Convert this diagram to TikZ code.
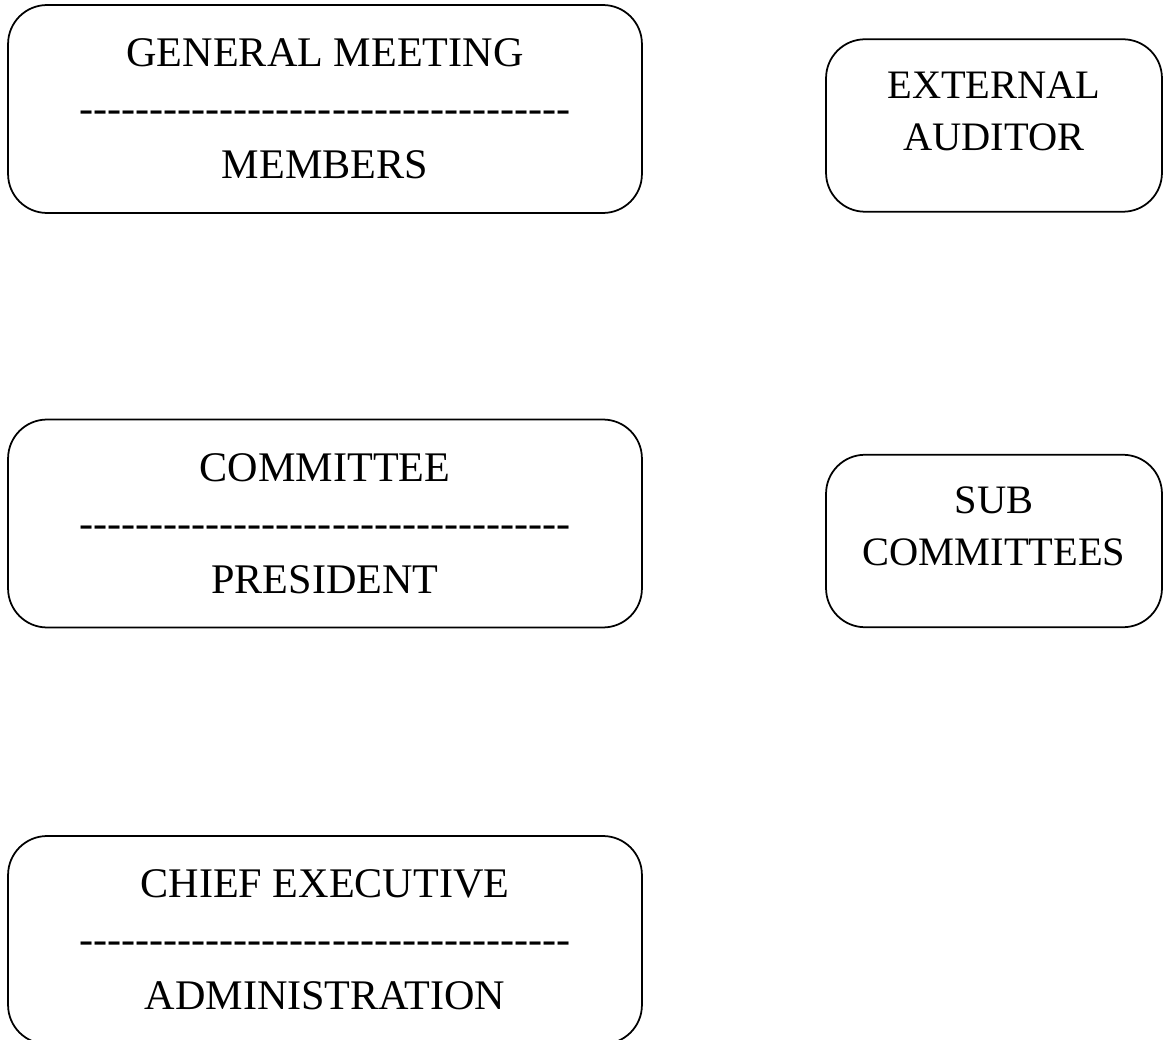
\documentclass[tikz,border=0pt]{standalone}
\usepackage{fontspec}
\setmainfont{Liberation Serif}[Ligatures=TeXOff]
\tikzset{
	orgbox/.style={draw, line width=1pt, rounded corners=0.78cm, align=center, inner sep=0pt},
	widebox/.style={orgbox, minimum width=12.68cm, minimum height=4.16cm, font=\fontsize{24}{31.9}\selectfont},
	smallbox/.style={orgbox, minimum width=6.72cm, minimum height=3.45cm, text depth=0.58cm, font=\fontsize{23}{29.5}\selectfont}
}
\begin{document}
\begin{tikzpicture}[x=0.02cm, y=-0.02cm, line join=round, line cap=round]
			\def\sep{-----------------------------------}
			\useasboundingbox (0,0) rectangle (1163,1040);
			\node[widebox] (meeting) at (325,109) {GENERAL MEETING\\ \sep\\ MEMBERS};
			\node[widebox] (committee) at (325,523.5) {COMMITTEE\\ \sep\\ PRESIDENT};
			\node[widebox] (chief) at (325,940) {CHIEF EXECUTIVE\\ \sep\\ ADMINISTRATION};
			\node[smallbox] (auditor) at (994,125.5) {EXTERNAL\\ AUDITOR};
			\node[smallbox] (sub) at (994,541) {SUB\\ COMMITTEES};
		\end{tikzpicture}
\end{document}
